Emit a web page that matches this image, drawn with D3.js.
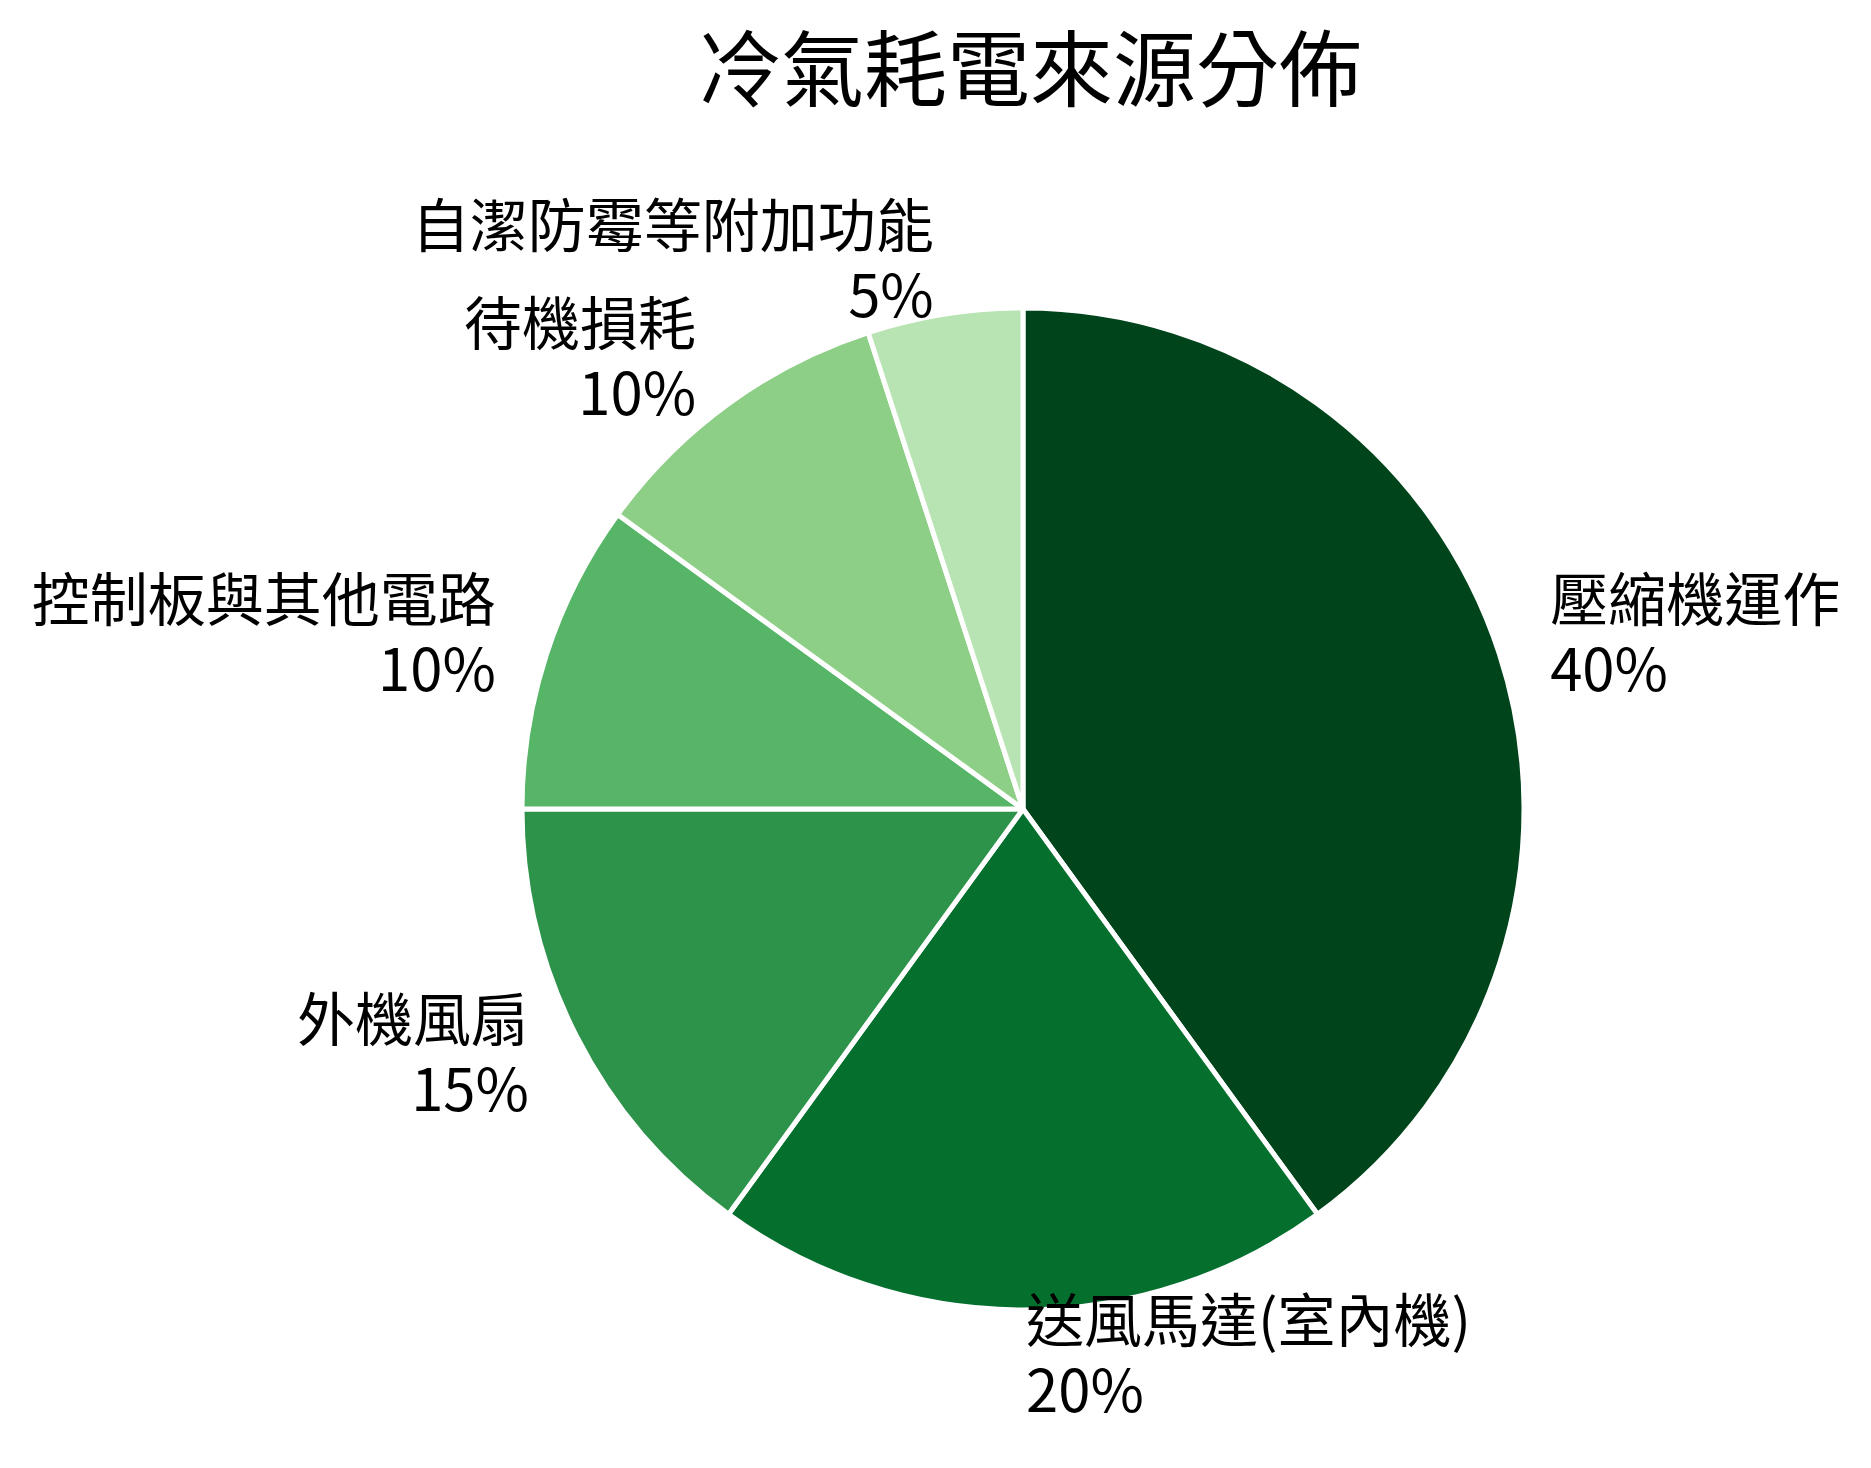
<!DOCTYPE html>
<html lang="zh-Hant">
<head>
    <meta charset="UTF-8">
    <title>冷氣耗電來源分佈</title>
    <script src="https://d3js.org/d3.v7.min.js"></script>
    <style>
        html, body { margin: 0; padding: 0; background: #fff; }
        svg text { font-family: "Noto Sans CJK TC", "Noto Sans CJK SC", sans-serif; fill: #000; }
    </style>
</head>
<body>
<div id="chart"></div>

<script>
    const categories = ["壓縮機運作", "送風馬達(室內機)", "外機風扇", "控制板與其他電路", "待機損耗", "自潔防霉等附加功能"];
    const shares = [40, 20, 15, 10, 10, 5];
    const colors = ["#00441b", "#056f2e", "#2d924a", "#56b567", "#8ecf87", "#b8e3b2"];

    const width = 1871, height = 1468;
    const cx = 1023, cy = 809, radius = 501;
    const fontSize = 58;

    const svg = d3.select("#chart")
        .append("svg")
        .attr("width", width)
        .attr("height", height);

    svg.append("text")
        .attr("x", 1030)
        .attr("y", 100)
        .attr("text-anchor", "middle")
        .style("font-size", "83px")
        .text("冷氣耗電來源分佈");

    // clockwise from 12 o'clock, in data order
    const pie = d3.pie().sort(null).value(d => d.v);
    const arcs = pie(categories.map((c, i) => ({name: c, v: shares[i], color: colors[i]})));
    const arc = d3.arc().innerRadius(0).outerRadius(radius);

    const g = svg.append("g").attr("transform", `translate(${cx},${cy})`);

    g.selectAll("path")
        .data(arcs)
        .join("path")
        .attr("d", arc)
        .attr("fill", d => d.data.color)
        .attr("stroke", "#fff")
        .attr("stroke-width", 5)
        .attr("stroke-linejoin", "round");

    // labels sit just outside the rim, left/right aligned by side, centred vertically
    const labelR = radius * 1.1;
    const total = d3.sum(shares);
    const isRight = d => Math.sin((d.startAngle + d.endAngle) / 2) >= -1e-9;
    const lab = g.selectAll("text.label")
        .data(arcs)
        .join("text")
        .attr("class", "label")
        .style("font-size", fontSize + "px")
        .attr("text-anchor", d => isRight(d) ? "start" : "end")
        .attr("transform", d => {
            const a = (d.startAngle + d.endAngle) / 2;
            const nudge = isRight(d) ? 3 : -3;
            return `translate(${labelR * Math.sin(a) + nudge},${-labelR * Math.cos(a)})`;
        });

    lab.append("tspan")
        .attr("x", 0)
        .attr("y", -18)
        .text(d => d.data.name);
    lab.append("tspan")
        .attr("x", 0)
        .attr("y", 52)
        .text(d => Math.round(d.data.v / total * 100) + "%");
</script>
</body>
</html>
